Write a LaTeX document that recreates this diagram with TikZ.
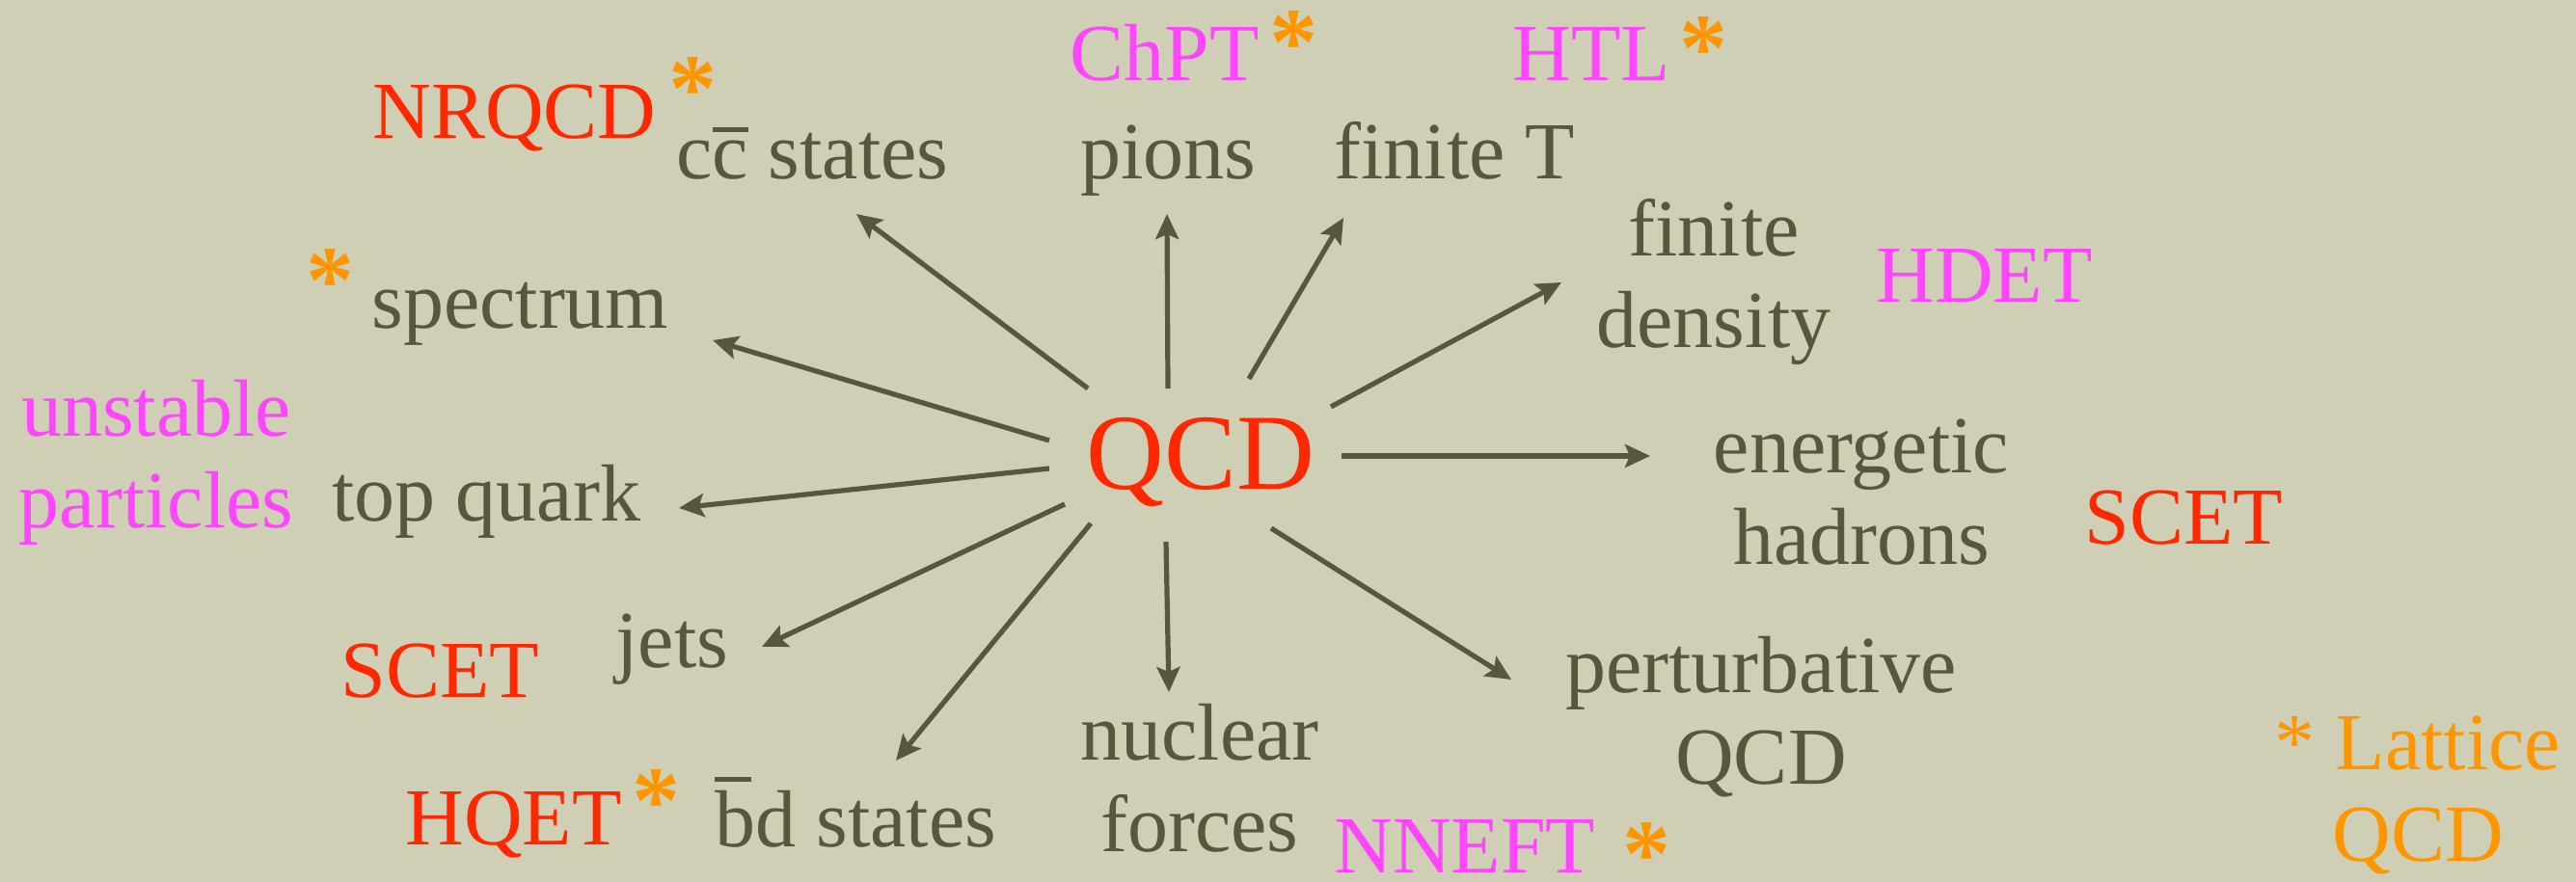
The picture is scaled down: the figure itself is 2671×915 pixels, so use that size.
\documentclass[tikz,border=0pt]{standalone}
\usepackage{fontspec}
\setmainfont{Liberation Serif}
\usetikzlibrary{arrows.meta}
\definecolor{bg}{RGB}{207,207,182}
\definecolor{ink}{RGB}{87,86,64}
\definecolor{qred}{RGB}{255,40,0}
\definecolor{qmag}{RGB}{255,70,255}
\definecolor{qorange}{RGB}{255,150,0}
\newcommand\twoline[2]{\vtop{\baselineskip=47.5pt\lineskiplimit=-100pt\halign{\hfil##\hfil\cr#1\cr#2\cr}}}
\newcommand\barc{c\makebox[0pt][l]{\rule[0.57em]{0.44em}{0.06em}}c}
\newcommand\barb{\makebox[0pt][l]{\rule[0.80em]{0.45em}{0.06em}}b}
\newcommand\astglyph{\raisebox{-0.46em}[0pt][0pt]{*}}
\begin{document}
\begin{tikzpicture}[x=0.5pt,y=-0.5pt,
  txt/.style={inner sep=0pt, text=ink, font=\fontsize{42}{47.5}\selectfont, anchor=base west},
  ctxt/.style={txt, anchor=base},
  eftred/.style={txt, text=qred},
  eftmag/.style={txt, text=qmag},
  lat/.style={inner sep=0pt, text=qorange, font=\fontsize{42}{47.5}\selectfont, anchor=base},
  ast/.style={inner sep=0pt, text=qorange, font=\fontsize{50}{50}\bfseries\selectfont, anchor=center},
  arr/.style={draw=ink, line width=2.6pt, -{Stealth[length=13pt,width=12pt,inset=2.5pt]}}]
\useasboundingbox (0,0) rectangle (2671,915);
\fill[bg] (0,0) rectangle (2671,915);

% centre
\node[inner sep=0pt, text=qred, font=\fontsize{56}{60}\selectfont, anchor=base] (qcd) at (1245,507) {QCD};

% physics topics
\node[txt] (cc) at (701,185) {\barc\ states};
\node[txt] (pions) at (1120,185) {pions};
\node[txt] (finT) at (1383,185) {finite T};
\node[ctxt] (dens) at (1777,265) {\twoline{finite}{density}};
\node[txt] (spec) at (385,340) {spectrum};
\node[txt] (top) at (344,540) {top quark};
\node[ctxt] (ener) at (1930,490) {\twoline{energetic}{hadrons}};
\node[txt] (jets) at (638,692) {jets};
\node[ctxt] (pert) at (1826,718) {\twoline{perturbative}{QCD}};
\node[ctxt] (nucl) at (1244,788) {\twoline{nuclear}{forces}};
\node[txt] (bd) at (741,878) {\barb d states};

% effective theories
\node[eftred] (nrqcd) at (386,143) {NRQCD};
\node[eftmag] (chpt) at (1109,84) {ChPT};
\node[eftmag] (htl) at (1568,84) {HTL};
\node[eftmag] (hdet) at (1945,313) {HDET};
\node[eftmag, anchor=base] (unst) at (162,452) {\twoline{unstable}{particles}};
\node[eftred] (scetR) at (2161,564) {SCET};
\node[eftred] (scetL) at (353,723) {SCET};
\node[eftred] (hqet) at (420,876) {HQET};
\node[eftmag] (nneft) at (1383,905) {NNEFT};
\node[lat] (latt) at (2507,798) {\twoline{* Lattice}{QCD}};

% lattice asterisks
\node[ast] (a1) at (718,80) {\astglyph};
\node[ast] (a2) at (1341,32) {\astglyph};
\node[ast] (a3) at (1766,38) {\astglyph};
\node[ast] (a4) at (342,278) {\astglyph};
\node[ast] (a5) at (680,818) {\astglyph};
\node[ast] (a6) at (1707,873) {\astglyph};

% arrows
\foreach \n/\sx/\sy/\ex/\ey in {
  cc/1128/403/888/222,
  pions/1211/403/1210/222,
  finT/1295/393/1393/226,
  dens/1380/422/1619/293,
  ener/1391/473/1711/473,
  pert/1318/548/1567/705,
  nucl/1209/562/1212/718,
  bd/1131/543/929/789,
  jets/1104/523/790/671,
  top/1088/486/704/527,
  spec/1088/457/739/353}{
  \coordinate (s-\n) at (\sx,\sy);
  \coordinate (e-\n) at (\ex,\ey);
  \draw[arr] (s-\n) -- (e-\n);
}
\end{tikzpicture}
\end{document}
